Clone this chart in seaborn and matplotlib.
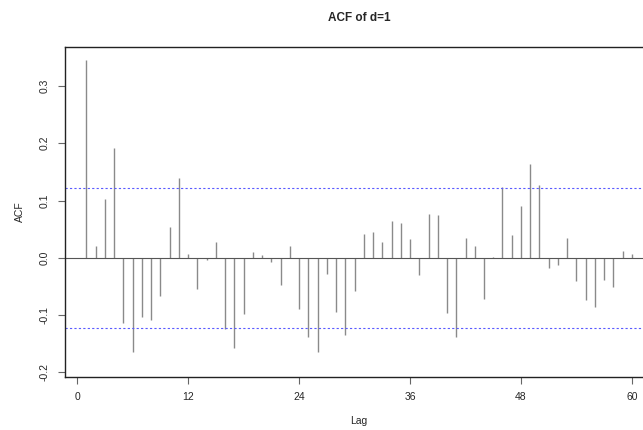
import numpy as np
import matplotlib
matplotlib.use('Agg')
import matplotlib.pyplot as plt
import seaborn as sns

# ACF values, lags 1..60
lags = list(range(1, 61))
acf_vals = [
    0.346, 0.021, 0.102, 0.192, -0.113, -0.164, -0.103, -0.109, -0.066, 0.054,
    0.140, 0.006, -0.055, -0.004, 0.027, -0.124, -0.158, -0.098, 0.010, 0.005,
    -0.008, -0.047, 0.021, -0.090, -0.139, -0.165, -0.029, -0.094, -0.135, -0.058,
    0.041, 0.045, 0.027, 0.064, 0.060, 0.033, -0.030, 0.077, 0.074, -0.097,
    -0.138, 0.034, 0.021, -0.071, 0.001, 0.124, 0.040, 0.090, 0.163, 0.127,
    -0.017, -0.013, 0.034, -0.040, -0.073, -0.085, -0.038, -0.051, 0.012, 0.006,
]
conf_limit = 0.122
x_ticks = [0, 12, 24, 36, 48, 60]
y_ticks = [-0.2, -0.1, 0.0, 0.1, 0.2, 0.3]

sns.set_style('white')
plt.rcParams['font.family'] = ['Liberation Sans', 'DejaVu Sans']

fig = plt.figure(figsize=(6.43, 4.30), dpi=100)
# box runs past the right edge like in the cropped reference
ax = fig.add_axes([64.5 / 643, 1 - 377 / 430, 589.3 / 643, 330 / 430])

ax.vlines(lags, 0, acf_vals, color='#8a8a8a', linewidth=1.0)
ax.axhline(0, color='#555555', linewidth=0.8)
for lim in (conf_limit, -conf_limit):
    ax.axhline(lim, color='#5a5aff', linewidth=0.8, linestyle=(0, (2, 2)))

ax.set_xlim(-1.36, 62.36)
ax.set_ylim(-0.208, 0.368)
ax.set_xticks(x_ticks)
ax.set_xticklabels([str(t) for t in x_ticks])
ax.set_yticks(y_ticks)
ax.set_yticklabels([f'{t:.1f}' for t in y_ticks], rotation=90, va='center')
ax.tick_params(axis='both', direction='out', length=5, width=0.8,
               color='#666666', labelsize=7.5, pad=6, left=True, bottom=True)

for s in ax.spines.values():
    s.set_color('#222222')
    s.set_linewidth(1.0)

ax.set_xlabel('Lag', fontsize=7.5, labelpad=10)
ax.set_ylabel('ACF', fontsize=7.5, labelpad=10)
fig.text(359 / 643, 1 - 18 / 430, 'ACF of d=1', ha='center', va='center',
         fontsize=8.5, fontweight='bold')

fig.savefig('out.png', dpi=100)
